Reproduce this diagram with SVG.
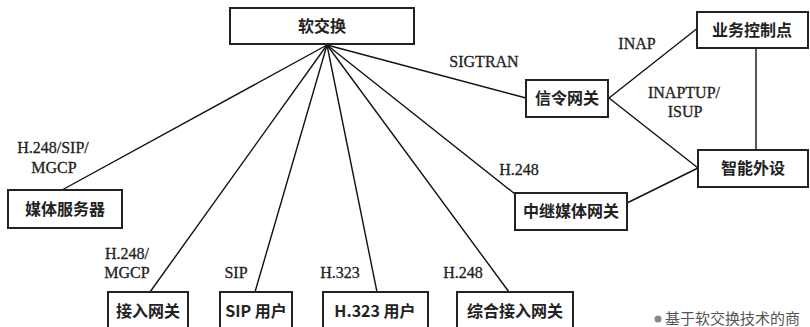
<svg xmlns="http://www.w3.org/2000/svg" width="810" height="327" viewBox="0 0 810 327">
<style>
.box{fill:#fff;stroke:#222;stroke-width:2}
.ln{stroke:#111;stroke-width:1.4;fill:none}
.cn{font-family:"Noto Sans CJK SC",sans-serif;font-weight:bold;font-size:16px;fill:#222;text-anchor:middle}
.lb{font-family:"Liberation Serif","Noto Sans CJK SC",serif;font-size:16px;fill:#222;stroke:#222;stroke-width:0.3;text-anchor:middle}
.ft{font-family:"Noto Sans CJK SC",sans-serif;font-size:15px;fill:#555}
</style>
<rect width="810" height="327" fill="#fff"/>
<g id="connectors">
<line class="ln" x1="327" y1="45" x2="62" y2="190"/>
<line class="ln" x1="327" y1="45" x2="150" y2="292"/>
<line class="ln" x1="327" y1="45" x2="255" y2="292"/>
<line class="ln" x1="327" y1="45" x2="377" y2="292"/>
<line class="ln" x1="327" y1="45" x2="509" y2="292"/>
<line class="ln" x1="327" y1="45" x2="515" y2="194"/>
<line class="ln" x1="327" y1="45" x2="526" y2="98"/>
<line class="ln" x1="609" y1="98" x2="699" y2="27"/>
<line class="ln" x1="609" y1="98" x2="698" y2="168"/>
<line class="ln" x1="627" y1="203" x2="698" y2="168"/>
<line class="ln" x1="756" y1="48" x2="756" y2="150"/>
<text class="lb" x="484" y="67">SIGTRAN</text>
<text class="lb" x="637" y="49">INAP</text>
<text class="lb" x="684" y="98">INAPTUP/</text>
<text class="lb" x="685" y="117">ISUP</text>
<text class="lb" x="519" y="175">H.248</text>
<text class="lb" x="53" y="153">H.248/SIP/</text>
<text class="lb" x="54" y="173">MGCP</text>
<text class="lb" x="127" y="259">H.248/</text>
<text class="lb" x="127" y="278">MGCP</text>
<text class="lb" x="236" y="278">SIP</text>
<text class="lb" x="340" y="278">H.323</text>
<text class="lb" x="463" y="278">H.248</text>
</g>
<g id="softswitch"><rect class="box" x="230" y="8" width="184" height="36"/><text class="cn" x="322" y="32">软交换</text></g>
<g id="media-server"><rect class="box" x="8" y="190" width="114" height="38"/><text class="cn" x="65" y="215">媒体服务器</text></g>
<g id="access-gw"><rect class="box" x="108" y="292" width="80" height="40"/><text class="cn" x="148" y="317">接入网关</text></g>
<g id="sip-user"><rect class="box" x="220" y="292" width="72" height="40"/><text class="cn" x="256" y="317">SIP 用户</text></g>
<g id="h323-user"><rect class="box" x="323" y="292" width="105" height="40"/><text class="cn" x="375" y="317">H.323 用户</text></g>
<g id="iad"><rect class="box" x="457" y="292" width="116" height="40"/><text class="cn" x="515" y="317">综合接入网关</text></g>
<g id="trunk-gw"><rect class="box" x="515" y="193" width="112" height="37"/><text class="cn" x="571" y="217">中继媒体网关</text></g>
<g id="signaling-gw"><rect class="box" x="526" y="80" width="82" height="37"/><text class="cn" x="567" y="104">信令网关</text></g>
<g id="scp"><rect class="box" x="697" y="12" width="111" height="36"/><text class="cn" x="752" y="36">业务控制点</text></g>
<g id="ip"><rect class="box" x="698" y="150" width="110" height="37"/><text class="cn" x="753" y="174">智能外设</text></g>
<g id="footnote"><circle cx="658" cy="319" r="3.5" fill="#888"/><text class="ft" x="665" y="324">基于软交换技术的商</text></g>
</svg>
